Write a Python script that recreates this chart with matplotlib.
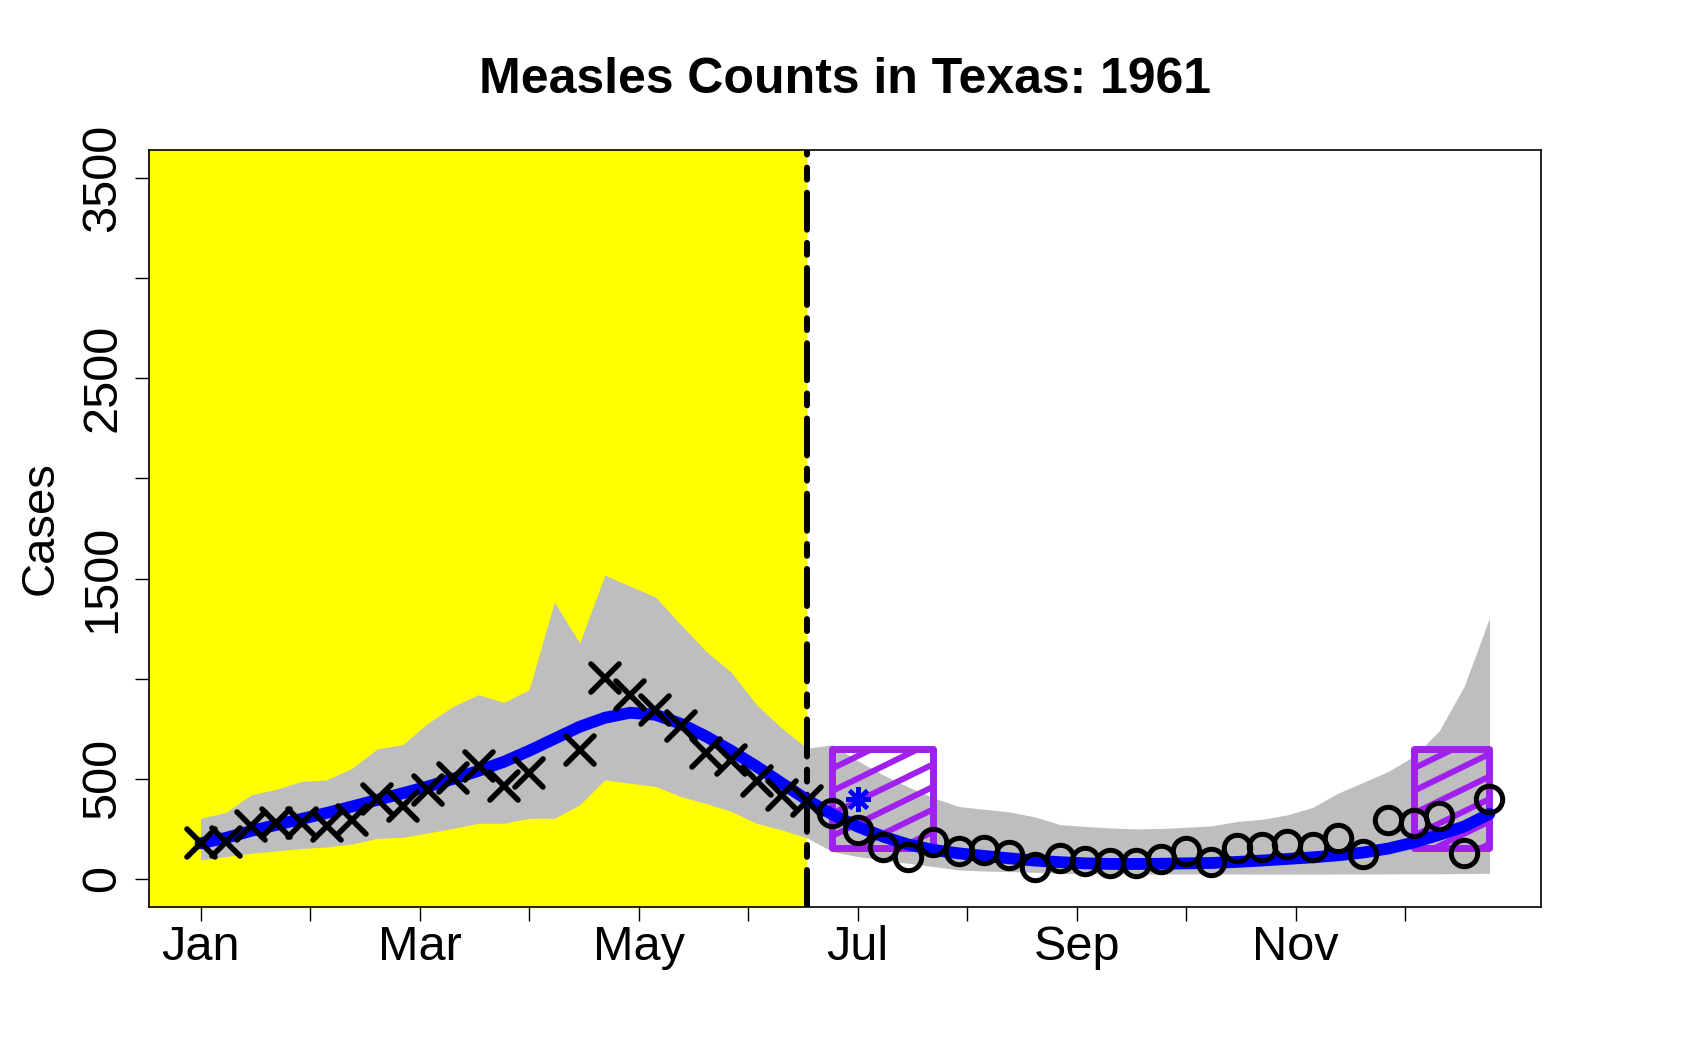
import numpy as np
import matplotlib
matplotlib.use("Agg")
import matplotlib.pyplot as plt
from matplotlib.patches import Rectangle
from matplotlib.markers import MarkerStyle

plt.rcParams['font.family'] = ['Liberation Sans', 'DejaVu Sans']

# weekly data, 1961 (week index 0..51)
weeks = np.arange(52)
cases = [178, 187, 262, 278, 280, 262, 295, 400, 362, 445, 503, 565, 462, 528, np.nan,
         645, 1003, 920, 845, 762, 628, 595, 487, 420, 390,
         328, 245, 162, 110, 183, 140, 145, 118, 62, 103, 90, 80, 80, 100, 142, 84,
         153, 162, 176, 162, 203, 127, 292, 280, 314, 130, 398]
fit = [178, 205, 240, 270, 300, 330, 362, 395, 428, 462, 500, 540, 585, 640, 700,
       760, 805, 830, 820, 775, 712, 640, 562, 478, 395, 322, 262, 212, 172, 145,
       128, 115, 103, 92, 84, 78, 75, 75, 76, 78, 80, 85, 92, 100, 108, 118, 132,
       152, 182, 220, 262, 325]
band_hi = [303, 332, 420, 448, 487, 495, 553, 650, 670, 778, 862, 920, 882, 945, 1382,
           1178, 1517, 1462, 1408, 1270, 1137, 1032, 870, 753, 653, 670, 590, 520, 460,
           405, 362, 348, 335, 310, 272, 262, 255, 250, 252, 258, 265, 287, 298, 320,
           357, 428, 482, 537, 612, 737, 962, 1303]
band_lo = [95, 112, 128, 140, 152, 160, 175, 203, 208, 230, 253, 278, 278, 303, 303,
           370, 495, 478, 462, 412, 377, 337, 278, 245, 205, 137, 112, 95, 78, 62, 45,
           40, 37, 33, 28, 27, 25, 25, 25, 25, 25, 25, 24, 24, 24, 25, 25, 25, 26, 26,
           27, 28]
cutoff = 24              # last week of the fitting window
star_week, star_val = 26, 400
boxes = [(25, 29), (48, 51)]
box_lo, box_hi = 155, 648
months = ['Jan', '', 'Mar', '', 'May', '', 'Jul', '', 'Sep', '', 'Nov', '']
yticks = [0, 500, 1000, 1500, 2000, 2500, 3000, 3500]
ylabels = ['0', '500', '', '1500', '', '2500', '', '3500']

cases = np.array(cases, dtype=float)
fit = np.array(fit, dtype=float)

purple = '#A020F0'
fig = plt.figure(figsize=(16.92, 10.58), dpi=100)
ax = fig.add_axes([149/1692, 1 - 907/1058, 1392/1692, 757/1058])
ax.set_xlim(-0.04*51, 51*1.04)
ax.set_ylim(-140, 3640)

ax.axvspan(-10, cutoff, color='#FFFF00', lw=0, zorder=0)
ax.fill_between(weeks, band_lo, band_hi, color='#BEBEBE', lw=0, zorder=1)

# hatched boxes, hatch lines drawn in pixel space at ~26 degrees
ang = np.deg2rad(26)
dv = 22.5
for (b0, b1) in boxes:
    rect = Rectangle((b0, box_lo), b1 - b0, box_hi - box_lo, fill=False, ec=purple,
                     lw=5.0, joinstyle='round', zorder=3)
    ax.add_patch(rect)
    (px0, py0), (px1, py1) = ax.transData.transform([(b0, box_lo), (b1, box_hi)])
    rise = np.tan(ang) * (px1 - px0)
    inv = ax.transData.inverted()
    c = 12 - dv * np.ceil(rise / dv)
    while c < (py1 - py0) + dv:
        pts = inv.transform([(px0 - 5, py0 + c - np.tan(ang)*5), (px1 + 5, py0 + c + rise + np.tan(ang)*5)])
        ln, = ax.plot(pts[:, 0], pts[:, 1], color=purple, lw=4.3, solid_capstyle='butt', zorder=2.5)
        ln.set_clip_path(rect)
        c += dv

ax.axvline(cutoff, color='black', lw=4.3, dashes=(6.2, 2.2, 2.0, 2.2),
           dash_capstyle='round', zorder=3.5)
ax.plot(weeks, fit, color='#0000FF', lw=8.5, solid_capstyle='round', zorder=4)

past = weeks <= cutoff
xm = MarkerStyle('x', capstyle='round')
ax.plot(weeks[past], cases[past], ls='none', marker=xm, color='black', ms=20, mew=4, zorder=5)
ax.plot(weeks[~past], cases[~past], 'o', mfc='none', mec='black', ms=19, mew=3.6, zorder=5)
ax.plot([star_week], [star_val], marker=(8, 2, 0), color='#0000FF', ms=18, mew=3, zorder=6)

ax.set_xticks(np.arange(12) * 52 / 12)
ax.set_xticklabels(months)
ax.set_yticks(yticks)
ax.set_yticklabels(ylabels, rotation=90, va='center')
ax.tick_params(axis='both', labelsize=35, length=10, width=1, color='black')
ax.tick_params(axis='x', pad=3)
ax.tick_params(axis='y', pad=7)
for s in ax.spines.values():
    s.set_linewidth(1.2)

ax.set_ylabel('Cases', fontsize=34)
ax.yaxis.set_label_coords(-0.062, 0.5)
ax.set_title('Measles Counts in Texas: 1961', fontsize=36, fontweight='bold', pad=41)

fig.savefig('out.png', dpi=100)
